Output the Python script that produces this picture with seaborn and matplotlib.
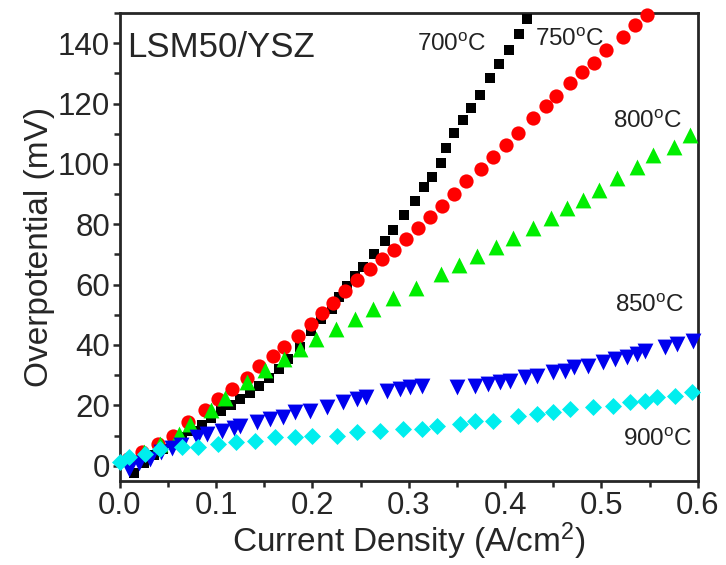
import numpy as np
import pandas as pd
import matplotlib
matplotlib.use("Agg")
import matplotlib.pyplot as plt
from matplotlib.ticker import MultipleLocator
import seaborn as sns

# ── Data ──────────────────────────────────────────────────────────────────────
x_700 = [0.015, 0.025, 0.035, 0.045, 0.055, 0.065, 0.075, 0.085, 0.095, 0.105,
         0.115, 0.125, 0.135, 0.145, 0.155, 0.165, 0.175, 0.187, 0.199, 0.209,
         0.220, 0.228, 0.236, 0.244, 0.253, 0.264, 0.275, 0.284, 0.295, 0.306,
         0.316, 0.324, 0.334, 0.339, 0.347, 0.356, 0.365, 0.374, 0.384, 0.394,
         0.404, 0.414, 0.423]
y_700 = [-2.5, 1.0, 3.5, 5.5, 7.5, 9.5, 11.5, 13.5, 15.8, 18.0,
         20.2, 22.0, 24.0, 26.5, 29.0, 32.0, 35.5, 39.5, 44.5, 48.5,
         52.0, 56.0, 59.5, 63.0, 66.0, 70.3, 74.4, 78.2, 83.0, 87.6,
         92.2, 95.8, 100.2, 105.4, 110.2, 114.6, 118.6, 122.8, 128.3, 133.2,
         137.6, 143.1, 148.1]

x_750 = [0.009, 0.023, 0.040, 0.055, 0.071, 0.088, 0.102, 0.117, 0.132, 0.145,
         0.159, 0.171, 0.185, 0.199, 0.210, 0.221, 0.234, 0.246, 0.260, 0.272,
         0.285, 0.297, 0.310, 0.322, 0.335, 0.347, 0.359, 0.375, 0.388, 0.401,
         0.413, 0.429, 0.442, 0.453, 0.467, 0.480, 0.492, 0.505, 0.522, 0.535,
         0.547]
y_750 = [2.3, 4.5, 7.3, 10.0, 14.4, 18.3, 22.0, 25.4, 28.9, 32.9,
         36.2, 39.2, 43.0, 46.9, 50.7, 54.0, 57.8, 61.4, 65.3, 68.5,
         71.6, 75.2, 78.9, 82.3, 86.0, 89.9, 94.3, 98.3, 102.4, 106.3,
         110.4, 115.1, 119.2, 122.5, 126.7, 130.6, 133.3, 137.6, 142.0, 145.9,
         149.2]

x_800 = [0.025, 0.042, 0.061, 0.073, 0.095, 0.109, 0.132, 0.151, 0.170, 0.187,
         0.204, 0.224, 0.244, 0.263, 0.284, 0.308, 0.334, 0.352, 0.371, 0.391,
         0.408, 0.429, 0.448, 0.464, 0.481, 0.498, 0.516, 0.537, 0.554, 0.575,
         0.592]
y_800 = [4.5, 7.3, 10.6, 13.9, 18.5, 22.5, 27.6, 31.7, 35.3, 38.6,
         41.9, 45.2, 48.5, 51.8, 55.6, 59.0, 63.4, 66.4, 69.4, 72.5,
         75.5, 78.8, 82.1, 85.4, 88.1, 91.4, 95.3, 99.1, 103.0, 105.7,
         109.6]

x_850 = [0.010, 0.020, 0.031, 0.043, 0.054, 0.064, 0.080, 0.091, 0.106, 0.119,
         0.125, 0.142, 0.156, 0.169, 0.182, 0.197, 0.215, 0.232, 0.246, 0.256,
         0.277, 0.291, 0.301, 0.314, 0.350, 0.369, 0.382, 0.395, 0.405, 0.421,
         0.433, 0.450, 0.462, 0.472, 0.486, 0.502, 0.514, 0.527, 0.537, 0.545,
         0.566, 0.579, 0.595]
y_850 = [-1.0, 1.0, 2.3, 4.5, 5.8, 6.8, 9.6, 10.6, 11.6, 12.4,
         13.2, 14.5, 15.5, 16.2, 17.8, 18.2, 19.5, 21.1, 22.1, 22.8,
         24.8, 25.4, 26.0, 26.4, 26.0, 26.4, 27.0, 27.7, 28.0, 29.4,
         29.7, 31.0, 31.4, 32.7, 33.0, 34.3, 35.3, 36.0, 37.0, 38.0,
         39.3, 40.3, 41.3]

x_900 = [0.000, 0.010, 0.026, 0.042, 0.065, 0.081, 0.102, 0.121, 0.140, 0.161,
         0.182, 0.200, 0.225, 0.246, 0.270, 0.294, 0.314, 0.329, 0.353, 0.369,
         0.387, 0.413, 0.433, 0.450, 0.467, 0.491, 0.512, 0.530, 0.545, 0.558,
         0.576, 0.594]
y_900 = [1.3, 3.0, 4.0, 5.6, 6.3, 6.3, 7.3, 7.9, 8.3, 9.6,
         9.6, 9.9, 9.9, 11.2, 11.6, 12.2, 12.2, 13.2, 13.9, 14.9,
         14.9, 16.5, 17.2, 17.8, 18.8, 19.5, 19.8, 21.1, 21.5, 22.8,
         23.1, 24.4]

SERIES = [
    # name, x, y, marker, color, size, label pos (x, y)
    ("700", x_700, y_700, "s", "#000000", 62, (0.309, 137.5)),
    ("750", x_750, y_750, "o", "#ff0000", 105, (0.431, 139.0)),
    ("800", x_800, y_800, "^", "#00ee00", 130, (0.512, 112.0)),
    ("850", x_850, y_850, "v", "#0000ee", 130, (0.514, 50.8)),
    ("900", x_900, y_900, "D", "#00eeee", 75, (0.522, 6.6)),
]

# ── Style ─────────────────────────────────────────────────────────────────────
sns.set_style("ticks")
plt.rcParams["font.family"] = ["Liberation Sans", "DejaVu Sans"]
plt.rcParams["mathtext.fontset"] = "custom"
plt.rcParams["mathtext.rm"] = "Liberation Sans"
plt.rcParams["mathtext.it"] = "Liberation Sans"

fig = plt.figure(figsize=(7.26, 5.65), dpi=100)
ax = fig.add_axes([0.165, 0.149, 0.796, 0.828])

for name, xs, ys, marker, color, size, _ in SERIES:
    df = pd.DataFrame({"x": xs, "y": ys})
    sns.scatterplot(data=df, x="x", y="y", marker=marker, color=color,
                    s=size, linewidth=0, ax=ax, clip_on=False, zorder=3)

for name, xs, ys, marker, color, size, (tx, ty) in SERIES:
    ax.text(tx, ty, name + r"$^{\mathrm{o}}$C", fontsize=17.5,
            color="#222222", ha="left", va="baseline")

ax.text(0.012, 0.962, "LSM50/YSZ", transform=ax.transAxes, fontsize=25,
        ha="left", va="top")

ax.set_xlim(0, 0.6)
ax.set_ylim(-5, 150)
ax.xaxis.set_major_locator(MultipleLocator(0.1))
ax.xaxis.set_minor_locator(MultipleLocator(0.05))
ax.yaxis.set_major_locator(MultipleLocator(20))
ax.yaxis.set_minor_locator(MultipleLocator(10))
ax.set_xticklabels([f"{v:.1f}" for v in ax.get_xticks()])
ax.tick_params(which="both", direction="out", width=1.8, labelsize=22.5,
               top=False, right=False, pad=2)
ax.tick_params(which="major", length=5)
ax.tick_params(which="minor", length=4)
for sp in ax.spines.values():
    sp.set_linewidth(2.0)
    sp.set_visible(True)

ax.set_xlabel("Current Density (A/cm$^{2}$)", fontsize=24, labelpad=0)
ax.set_ylabel("Overpotential (mV)", fontsize=24, labelpad=2)

fig.savefig("out.png", dpi=100)
